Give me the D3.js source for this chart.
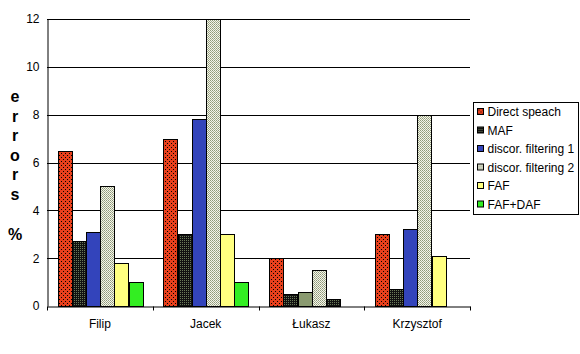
<!DOCTYPE html>
<html>
<head>
<meta charset="utf-8">
<script src="https://cdn.jsdelivr.net/npm/d3@7"></script>
<style>
  body { margin: 0; background: #fff; }
  svg text { font-family: Arial, "Liberation Sans", sans-serif; }
  pattern rect { shape-rendering: crispEdges; }
</style>
</head>
<body>
<div id="chart"></div>
<script>
// Chart data
const speakers = ["Filip", "Jacek", "Łukasz", "Krzysztof"];
const seriesNames = ["Direct speach", "MAF", "discor. filtering 1", "discor. filtering 2", "FAF", "FAF+DAF"];
const directSpeach = [6.5, 7.0, 2.0, 3.0];
const maf = [2.7, 3.0, 0.5, 0.7];
const discor1 = [3.1, 7.8, 0.6, 3.2];
const discor2 = [5.0, 12, 1.5, 8.0];
const faf = [1.8, 3.0, 0.3, 2.1];
const fafDaf = [1.0, 1.0, 0, 0];
const yTicks = [0, 2, 4, 6, 8, 10, 12];
const yLabel = ["e", "r", "r", "o", "r", "s"];

// The source draws two of Łukasz's bars in other fills
const fillOverride = { "Łukasz|discor. filtering 1": "#8a9a70", "Łukasz|FAF": "url(#pat-maf)" };

const values = [directSpeach, maf, discor1, discor2, faf, fafDaf];
const fills = ["url(#pat-red)", "url(#pat-maf)", "#3344bb", "url(#pat-disc2)", "#ffff80", "#33ee22"];

const width = 580, height = 354;
const margin = { left: 47, right: 110, top: 19, bottom: 48 };
const svg = d3.select("#chart").append("svg")
  .attr("width", width).attr("height", height);

// patterns
const defs = svg.append("defs");
const red = defs.append("pattern").attr("id", "pat-red").attr("patternUnits", "userSpaceOnUse")
  .attr("width", 4).attr("height", 4);
red.append("rect").attr("width", 4).attr("height", 4).attr("fill", "#e8401c");
red.append("rect").attr("x", 1).attr("y", 1).attr("width", 1).attr("height", 1).attr("fill", "#000");
red.append("rect").attr("x", 3).attr("y", 3).attr("width", 1).attr("height", 1).attr("fill", "#000");

const mafP = defs.append("pattern").attr("id", "pat-maf").attr("patternUnits", "userSpaceOnUse")
  .attr("width", 2).attr("height", 2);
mafP.append("rect").attr("width", 2).attr("height", 2).attr("fill", "#111");
mafP.append("rect").attr("x", 0).attr("y", 0).attr("width", 1).attr("height", 1).attr("fill", "#6a7a58");

const d2 = defs.append("pattern").attr("id", "pat-disc2").attr("patternUnits", "userSpaceOnUse")
  .attr("width", 2).attr("height", 2);
d2.append("rect").attr("width", 2).attr("height", 2).attr("fill", "#f4f4ec");
d2.append("rect").attr("x", 0).attr("y", 0).attr("width", 1).attr("height", 1).attr("fill", "#8f9a78");
d2.append("rect").attr("x", 1).attr("y", 1).attr("width", 1).attr("height", 1).attr("fill", "#a8b090");

const x0 = d3.scaleBand().domain(speakers).range([margin.left, width - margin.right]);
const x1 = d3.scaleBand().domain(seriesNames)
  .range([x0.bandwidth() * 0.1, x0.bandwidth() * 0.907]);
const y = d3.scaleLinear().domain([0, 12]).range([height - margin.bottom, margin.top]);

// gridlines
svg.append("g")
  .selectAll("line")
  .data(yTicks.slice(1))
  .join("line")
  .attr("x1", margin.left).attr("x2", width - margin.right)
  .attr("y1", d => Math.round(y(d)) + 0.5).attr("y2", d => Math.round(y(d)) + 0.5)
  .attr("stroke", "#000");

// bars
const rows = [];
speakers.forEach((s, i) => {
  seriesNames.forEach((n, j) => {
    if (values[j][i] > 0) rows.push({ s, n, v: values[j][i], fill: fillOverride[s + "|" + n] || fills[j] });
  });
});
svg.append("g")
  .selectAll("rect")
  .data(rows)
  .join("rect")
  .attr("x", d => Math.round(x0(d.s) + x1(d.n)) + 0.5)
  .attr("y", d => Math.round(y(d.v)) + 0.5)
  .attr("width", Math.round(x1.bandwidth()))
  .attr("height", d => Math.round(y(0)) - Math.round(y(d.v)))
  .attr("fill", d => d.fill)
  .attr("stroke", "#000");

// y axis
const yAxis = svg.append("g")
  .attr("transform", `translate(${margin.left + 0.5},0)`)
  .call(d3.axisLeft(y).tickValues(yTicks).tickSize(0).tickPadding(8));
yAxis.select(".domain").attr("stroke", "#000");
yAxis.selectAll("text").attr("font-size", 12).attr("fill", "#000");

// x axis
const xAxis = svg.append("g")
  .attr("transform", `translate(0,${Math.round(y(0)) + 0.5})`)
  .call(d3.axisBottom(x0).tickSize(0).tickPadding(13));
xAxis.select(".domain").attr("stroke", "#000");
xAxis.selectAll("text").attr("font-size", 12).attr("fill", "#000");
xAxis.selectAll(".sep")
  .data(speakers.map(s => x0(s)).concat([x0.range()[1]]))
  .join("line")
  .attr("x1", d => Math.round(d) + 0.5).attr("x2", d => Math.round(d) + 0.5)
  .attr("y1", 0).attr("y2", 4)
  .attr("stroke", "#000");

// y label, stacked letters
svg.append("g")
  .selectAll("text")
  .data(yLabel)
  .join("text")
  .attr("x", 15).attr("y", (d, i) => 102 + i * 19.6)
  .attr("text-anchor", "middle")
  .attr("font-size", 16).attr("font-weight", "bold")
  .text(d => d);
svg.append("text")
  .attr("x", 15).attr("y", 240)
  .attr("text-anchor", "middle")
  .attr("font-size", 16).attr("font-weight", "bold")
  .text("%");

// legend
const legend = svg.append("g").attr("transform", "translate(473.5,102.5)");
legend.append("rect").attr("width", 105).attr("height", 112)
  .attr("fill", "#fff").attr("stroke", "#000");
const item = legend.selectAll(".item")
  .data(seriesNames)
  .join("g")
  .attr("transform", (d, i) => `translate(4,${6 + i * 18.5})`);
item.append("rect")
  .attr("width", 6).attr("height", 6)
  .attr("fill", (d, i) => fills[i]).attr("stroke", "#000");
item.append("text")
  .attr("x", 10).attr("y", 7.5)
  .attr("font-size", 12)
  .text(d => d);
</script>
</body>
</html>
